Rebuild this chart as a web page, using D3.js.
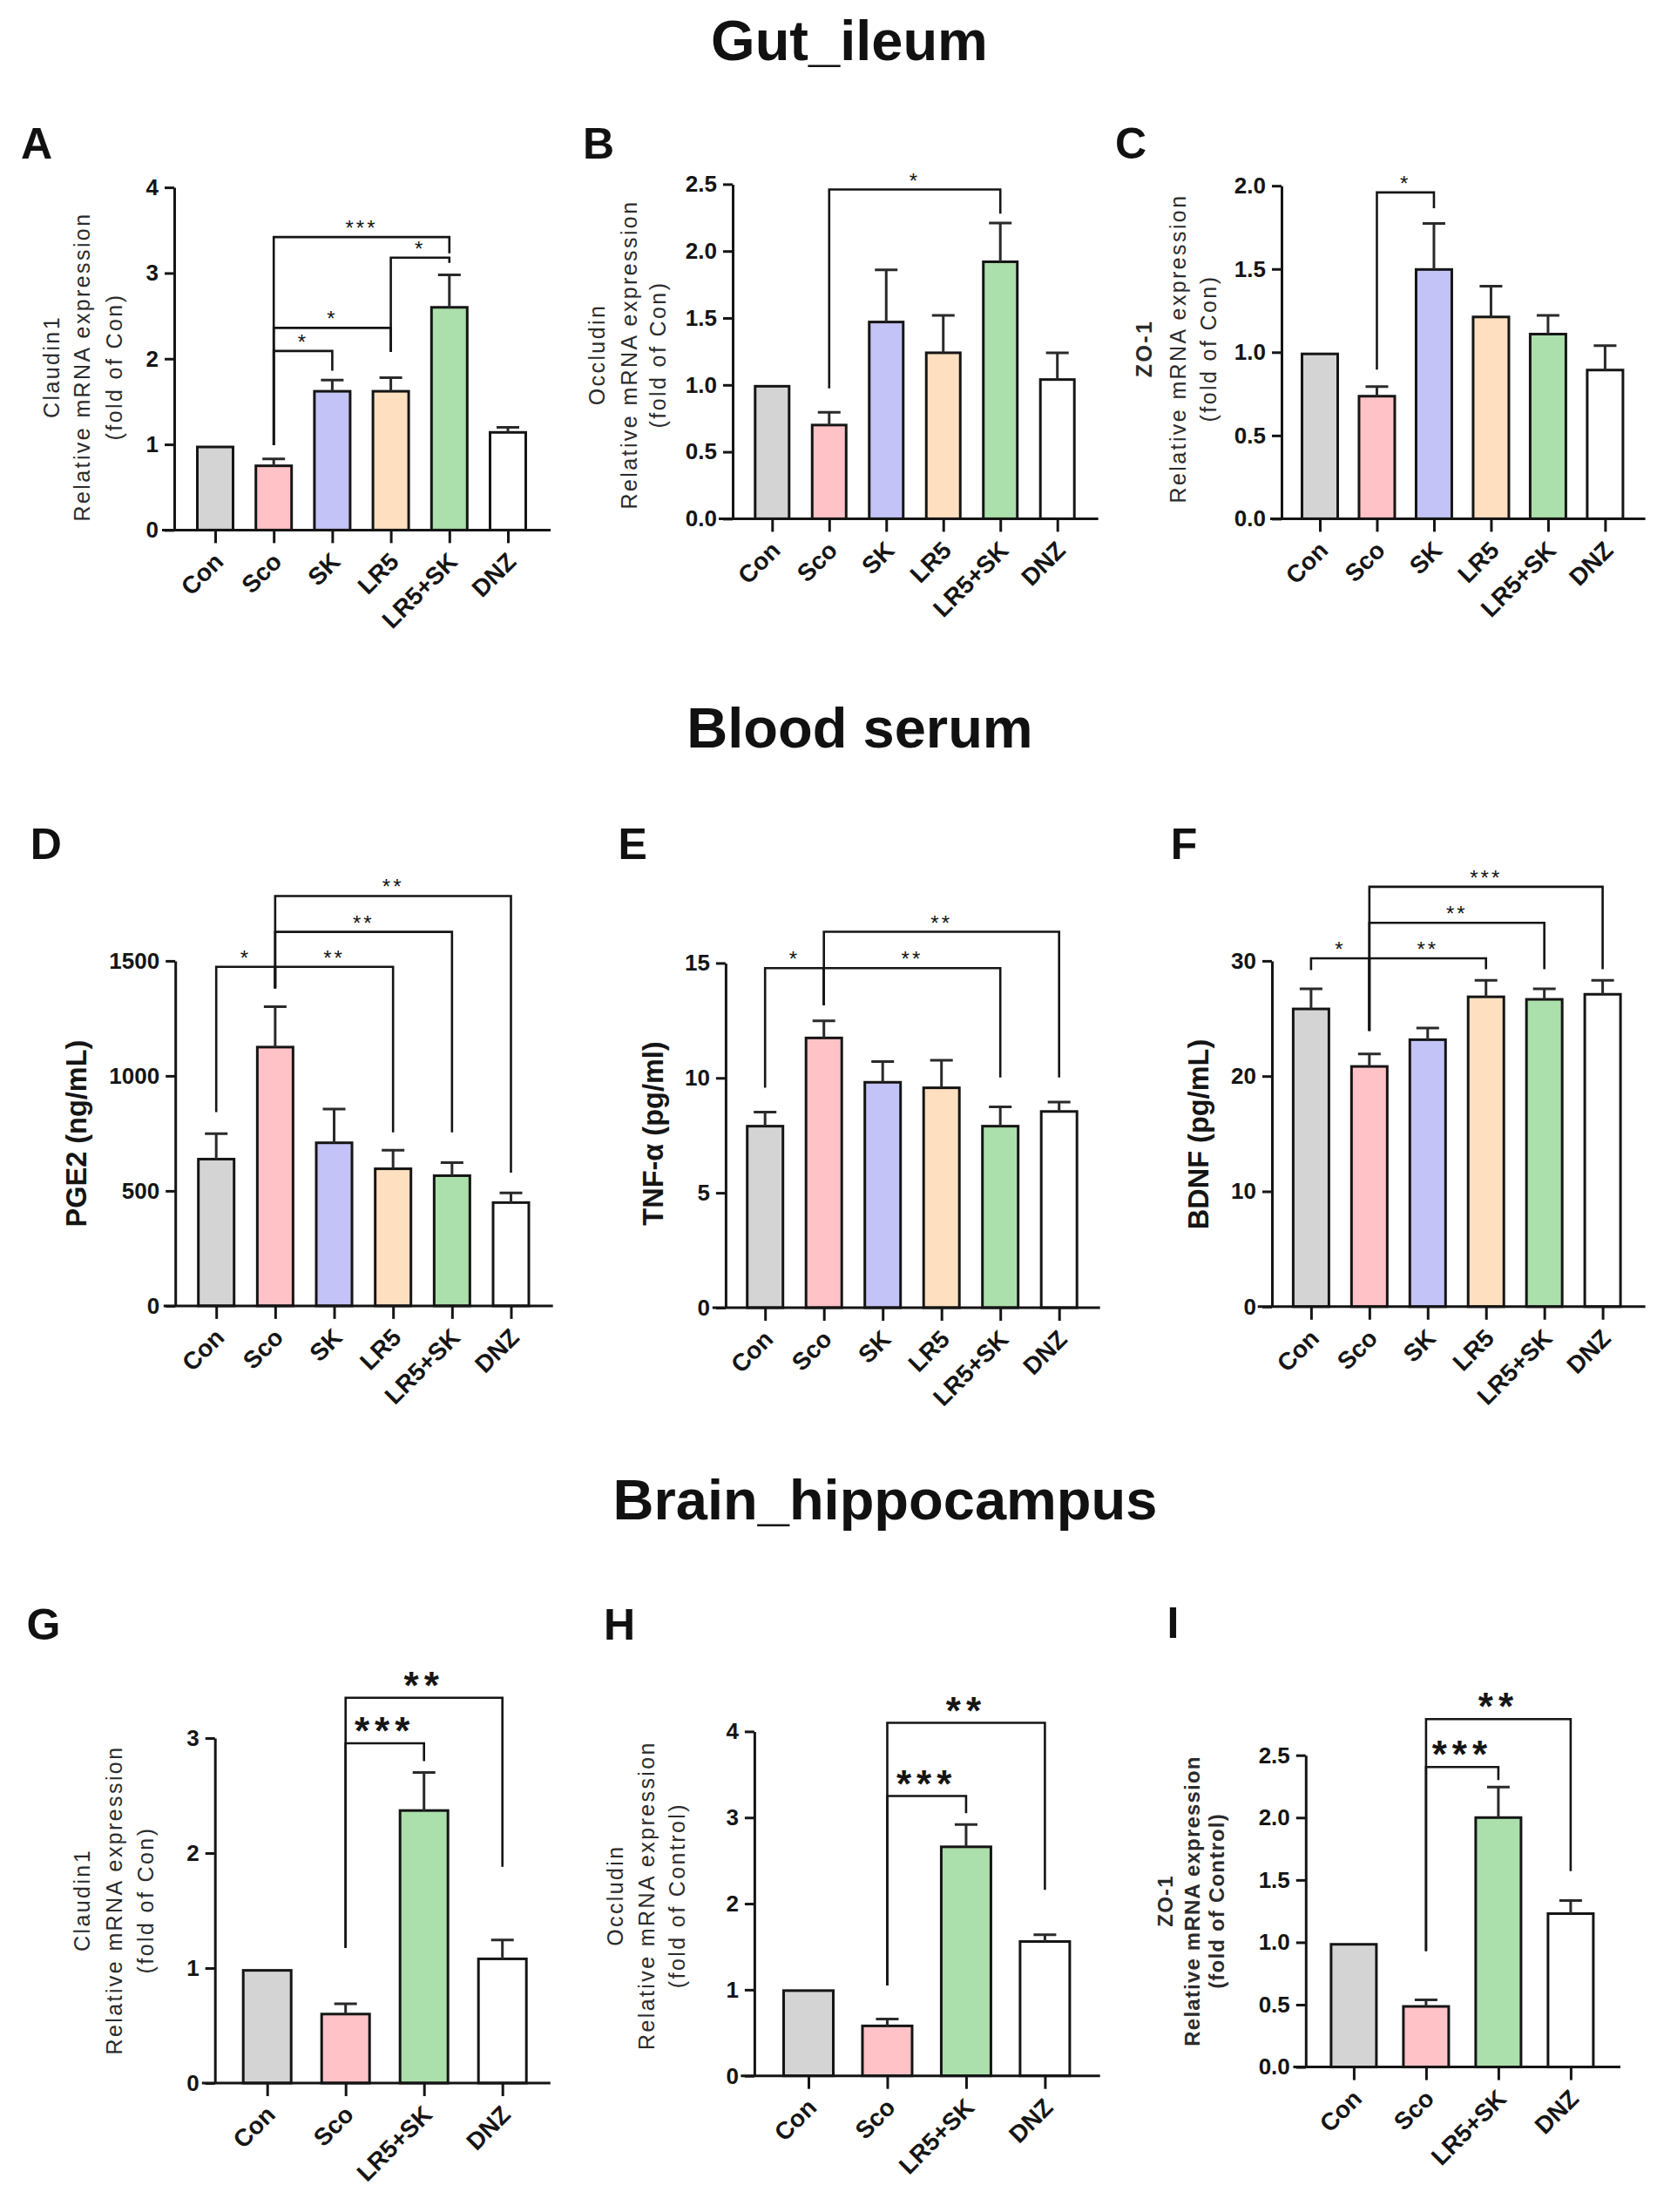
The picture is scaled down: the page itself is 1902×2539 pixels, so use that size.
<!DOCTYPE html>
<html>
<head>
<meta charset="utf-8">
<script src="https://cdn.jsdelivr.net/npm/d3@7"></script>
<style>
  body { margin: 0; background: #fff; }
</style>
</head>
<body>
<svg id="fig"></svg>
<script>
(function () {
    var FONT = "'Liberation Sans', Arial, Helvetica, sans-serif";

    // groups
    var groups6 = ["Con", "Sco", "SK", "LR5", "LR5+SK", "DNZ"];
    var groups4 = ["Con", "Sco", "LR5+SK", "DNZ"];
    var groupColors = ["#d4d4d4", "#ffc2c6", "#c3c3f7", "#fedfbf", "#abdfab", "#ffffff"];
    var sectionTitles = ["Gut_ileum", "Blood serum", "Brain_hippocampus"];

    // gut ileum
    var gutClaudinMean = [0.97, 0.75, 1.62, 1.62, 2.60, 1.14];
    var gutClaudinSem = [0, 0.08, 0.13, 0.16, 0.38, 0.06];
    var gutOccludinMean = [0.99, 0.70, 1.47, 1.24, 1.92, 1.04];
    var gutOccludinSem = [0, 0.095, 0.39, 0.28, 0.29, 0.20];
    var gutZo1Mean = [0.99, 0.736, 1.497, 1.212, 1.109, 0.893];
    var gutZo1Sem = [0, 0.058, 0.277, 0.184, 0.113, 0.147];

    // blood serum
    var pge2Mean = [638, 1125, 709, 596, 566, 449];
    var pge2Sem = [111, 176, 147, 81, 57, 42];
    var tnfMean = [7.90, 11.74, 9.81, 9.57, 7.90, 8.54];
    var tnfSem = [0.61, 0.74, 0.90, 1.20, 0.84, 0.41];
    var bdnfMean = [25.83, 20.84, 23.16, 26.88, 26.66, 27.10];
    var bdnfSem = [1.75, 1.08, 1.02, 1.43, 0.92, 1.21];

    // brain hippocampus
    var brainClaudinMean = [0.98, 0.60, 2.37, 1.08];
    var brainClaudinSem = [0, 0.09, 0.33, 0.165];
    var brainOccludinMean = [0.99, 0.58, 2.66, 1.56];
    var brainOccludinSem = [0, 0.08, 0.26, 0.08];
    var brainZo1Mean = [0.984, 0.486, 2.0, 1.23];
    var brainZo1Sem = [0, 0.052, 0.245, 0.105];

    // significance brackets: [from, to, top, left end, right end, label]
    var statsA = [[1, 4, 3.42, 0.99, 3.23, "***"], [3, 4, 3.18, 2.08, 3.12, "*"], [1, 3, 2.36, 0.99, 2.08, "*"], [1, 2, 2.09, 0.99, 1.86, "*"]];
    var statsB = [[1, 4, 2.46, 0.975, 2.28, "*"]];
    var statsC = [[1, 2, 1.96, 0.896, 1.865, "*"]];
    var statsD = [[0, 1, 1474, 842, 1380, "*"], [1, 3, 1474, 1380, 754, "**"], [1, 4, 1626, 1380, 754, "**"], [1, 5, 1782, 1380, 579, "**"]];
    var statsE = [[0, 1, 14.78, 9.57, 13.17, "*"], [1, 4, 14.78, 13.17, 10.02, "**"], [1, 5, 16.36, 13.17, 10.02, "**"]];
    var statsF = [[0, 1, 30.22, 29.2, 23.92, "*"], [1, 3, 30.22, 23.92, 29.27, "**"], [1, 4, 33.3, 23.92, 29.27, "**"], [1, 5, 36.43, 23.92, 29.27, "***"]];
    var statsG = [[1, 2, 2.955, 1.174, 2.80, "***"], [1, 3, 3.35, 1.174, 1.88, "**"]];
    var statsH = [[1, 2, 3.25, 1.05, 3.05, "***"], [1, 3, 4.10, 1.05, 2.16, "**"]];
    var statsI = [[1, 2, 2.405, 0.93, 2.30, "***"], [1, 3, 2.79, 0.93, 1.57, "**"]];

    // y ticks
    var ticksA = [0, 1, 2, 3, 4];
    var ticksHalf25 = [0, 0.5, 1.0, 1.5, 2.0, 2.5];
    var ticksHalf20 = [0, 0.5, 1.0, 1.5, 2.0];
    var ticksD = [0, 500, 1000, 1500];
    var ticksE = [0, 5, 10, 15];
    var ticksF = [0, 10, 20, 30];
    var ticksG = [0, 1, 2, 3];
    var ticksH = [0, 1, 2, 3, 4];

    var mrnaCon = ["Relative mRNA expression", "(fold of Con)"];
    var mrnaCtl = ["Relative mRNA expression", "(fold of Control)"];

    var width = 1902, height = 2539;
    var svg = d3.select("#fig").attr("width", width).attr("height", height)
        .attr("font-family", FONT);
    svg.append("rect").attr("width", width).attr("height", height).attr("fill", "#fff");

    var fmtInt = d3.format("d"), fmt1 = d3.format(".1f");

    var panels = [
        {id: "A", groups: groups6, mean: gutClaudinMean, sem: gutClaudinSem, stats: statsA, ticks: ticksA, fmt: fmtInt,
         yLabel: ["Claudin1"].concat(mrnaCon), big: false,
         L: {axisX: 200, y0: 608.4, yTop: 215.1, c0: 247, c1: 583, bw: 41, xStart: 186, xEnd: 632, lx: 24, ly: 182, labelX: [59, 94, 131], labelY: 421}},
        {id: "B", groups: groups6, mean: gutOccludinMean, sem: gutOccludinSem, stats: statsB, ticks: ticksHalf25, fmt: fmt1,
         yLabel: ["Occludin"].concat(mrnaCon), big: false,
         L: {axisX: 841, y0: 595.4, yTop: 211.4, c0: 886.3, c1: 1213.7, bw: 39, xStart: 825, xEnd: 1260.6, lx: 669, ly: 182, labelX: [685, 722, 754.5], labelY: 407}},
        {id: "C", groups: groups6, mean: gutZo1Mean, sem: gutZo1Sem, stats: statsC, ticks: ticksHalf20, fmt: fmt1,
         yLabel: ["ZO-1"].concat(mrnaCon), big: false, firstBold: true,
         L: {axisX: 1471, y0: 595.4, yTop: 213.2, c0: 1515, c1: 1842.4, bw: 41, xStart: 1458, xEnd: 1888.6, lx: 1280, ly: 182, labelX: [1313, 1352, 1386.5], labelY: 400}},
        {id: "D", groups: groups6, mean: pge2Mean, sem: pge2Sem, stats: statsD, ticks: ticksD, fmt: fmtInt,
         yLabel: ["PGE2 (ng/mL)"], big: false, single: true,
         L: {axisX: 201.2, y0: 1498.9, yTop: 1102.9, c0: 248.2, c1: 586.5, bw: 41, xStart: 187.8, xEnd: 634.7, lx: 34.7, ly: 986, labelX: [87.8], labelY: 1301}},
        {id: "E", groups: groups6, mean: tnfMean, sem: tnfSem, stats: statsE, ticks: ticksE, fmt: fmtInt,
         yLabel: ["TNF-\u03b1 (pg/ml)"], big: false, single: true,
         L: {axisX: 832.9, y0: 1501, yTop: 1105.4, c0: 878.2, c1: 1215.7, bw: 41, xStart: 817.8, xEnd: 1262.7, lx: 709.6, ly: 986, labelX: [750], labelY: 1301}},
        {id: "F", groups: groups6, mean: bdnfMean, sem: bdnfSem, stats: statsF, ticks: ticksF, fmt: fmtInt,
         yLabel: ["BDNF (pg/mL)"], big: false, single: true,
         L: {axisX: 1460, y0: 1499.8, yTop: 1102.9, c0: 1504.9, c1: 1839.6, bw: 41, xStart: 1443.7, xEnd: 1888.6, lx: 1343.7, ly: 986, labelX: [1376], labelY: 1302}},
        {id: "G", groups: groups4, mean: brainClaudinMean, sem: brainClaudinSem, stats: statsG, ticks: ticksG, fmt: fmtInt,
         yLabel: ["Claudin1"].concat(mrnaCon), big: true,
         L: {axisX: 246.7, y0: 2391, yTop: 1995, c0: 306.7, c1: 576.7, bw: 55, xStart: 231.8, xEnd: 631.8, lx: 30.6, ly: 1882, labelX: [94, 130.6, 167], labelY: 2181}},
        {id: "H", groups: groups4, mean: brainOccludinMean, sem: brainOccludinSem, stats: statsH, ticks: ticksH, fmt: fmtInt,
         yLabel: ["Occludin"].concat(mrnaCtl), big: true,
         L: {axisX: 865.9, y0: 2382.7, yTop: 1987.4, c0: 928, c1: 1199.4, bw: 57, xStart: 850.4, xEnd: 1262.7, lx: 693, ly: 1882, labelX: [705.5, 742, 777], labelY: 2175.6}},
        {id: "I", groups: groups4, mean: brainZo1Mean, sem: brainZo1Sem, stats: statsI, ticks: ticksHalf25, fmt: fmt1,
         yLabel: ["ZO-1"].concat(mrnaCtl), big: true, firstBold: true, dense: true,
         L: {axisX: 1498.8, y0: 2372.6, yTop: 2014.7, c0: 1553.9, c1: 1802.9, bw: 52, xStart: 1484.5, xEnd: 1860, lx: 1339.6, ly: 1880, labelX: [1337.6, 1368, 1396.7], labelY: 2182}}
    ];

    // section titles
    var titlePos = [[975, 69], [987, 858], [1016, 1744]];
    svg.selectAll("text.section").data(sectionTitles).join("text")
        .attr("class", "section")
        .attr("x", function (d, i) { return titlePos[i][0]; })
        .attr("y", function (d, i) { return titlePos[i][1]; })
        .attr("text-anchor", "middle")
        .attr("font-size", 65).attr("font-weight", "bold").attr("fill", "#111")
        .text(function (d) { return d; });

    panels.forEach(drawPanel);

    function drawPanel(p) {
        var L = p.L;
        var g = svg.append("g").attr("class", "panel-" + p.id);
        var y = d3.scaleLinear().domain([0, p.ticks[p.ticks.length - 1]]).range([L.y0, L.yTop]);
        var x = d3.scalePoint().domain(p.groups).range([L.c0, L.c1]);
        var rows = p.groups.map(function (name, i) {
            return {name: name, mean: p.mean[i], sem: p.sem[i], color: groupColors[groups6.indexOf(name)]};
        });

        // panel letter
        g.append("text").attr("x", L.lx).attr("y", L.ly)
            .attr("font-size", 50).attr("font-weight", "bold").attr("fill", "#111")
            .text(p.id);

        // bars
        g.selectAll("rect.bar").data(rows).join("rect")
            .attr("class", "bar")
            .attr("x", function (d) { return x(d.name) - L.bw / 2; })
            .attr("y", function (d) { return y(d.mean); })
            .attr("width", L.bw)
            .attr("height", function (d) { return L.y0 - y(d.mean); })
            .attr("fill", function (d) { return d.color; })
            .attr("stroke", "#151515").attr("stroke-width", 3);

        // error bars (upper only)
        g.selectAll("path.err").data(rows.filter(function (d) { return d.sem > 0; })).join("path")
            .attr("class", "err")
            .attr("d", function (d) {
                var cx = x(d.name), yt = y(d.mean + d.sem);
                return "M" + cx + "," + y(d.mean) + "V" + yt + "M" + (cx - 13) + "," + yt + "H" + (cx + 13);
            })
            .attr("fill", "none").attr("stroke", "#2a2a2a").attr("stroke-width", 3);

        // y axis
        var ya = g.append("g").attr("transform", "translate(" + L.axisX + ",0)")
            .call(d3.axisLeft(y).tickValues(p.ticks).tickFormat(p.fmt).tickSize(11).tickSizeOuter(0).tickPadding(7));
        ya.select(".domain").attr("stroke", "#151515").attr("stroke-width", 3);
        ya.selectAll(".tick line").attr("stroke", "#151515").attr("stroke-width", 3);
        ya.selectAll(".tick text").attr("font-family", FONT).attr("font-size", 26)
            .attr("font-weight", "bold").attr("fill", "#151515");

        // x axis
        g.append("line").attr("x1", L.xStart).attr("x2", L.xEnd).attr("y1", L.y0).attr("y2", L.y0)
            .attr("stroke", "#151515").attr("stroke-width", 3);
        var xa = g.append("g").attr("transform", "translate(0," + L.y0 + ")")
            .call(d3.axisBottom(x).tickSize(15).tickSizeOuter(0).tickFormat(""));
        xa.select(".domain").remove();
        xa.selectAll(".tick line").attr("stroke", "#151515").attr("stroke-width", 3);

        g.selectAll("text.xl").data(p.groups).join("text")
            .attr("class", "xl")
            .attr("transform", function (d) {
                return "translate(" + (x(d) + 11) + "," + (L.y0 + 38) + ") rotate(-45)";
            })
            .attr("text-anchor", "end")
            .attr("font-size", 28).attr("font-weight", "bold").attr("fill", "#151515")
            .text(function (d) { return d; });

        // y label
        if (p.single) {
            g.append("text")
                .attr("transform", "translate(" + (L.labelX[0] + 11) + "," + L.labelY + ") rotate(-90)")
                .attr("text-anchor", "middle")
                .attr("font-size", 32.5).attr("font-weight", "bold").attr("fill", "#151515")
                .text(p.yLabel[0]);
        } else {
            var fs = p.dense ? 24 : 25;
            g.selectAll("text.yl").data(p.yLabel).join("text")
                .attr("class", "yl")
                .attr("transform", function (d, i) {
                    return "translate(" + (L.labelX[i] + fs * 0.36) + "," + L.labelY + ") rotate(-90)";
                })
                .attr("text-anchor", "middle")
                .attr("font-size", fs)
                .attr("letter-spacing", p.dense ? 1.2 : 2.4)
                .attr("font-weight", function (d, i) { return (i === 0 && p.firstBold) || p.dense ? "bold" : "normal"; })
                .attr("fill", "#2b2b2b")
                .text(function (d) { return d; });
        }

        // significance brackets
        var starSize = p.big ? 44 : 24;
        g.selectAll("path.sig").data(p.stats).join("path")
            .attr("class", "sig")
            .attr("d", function (b) {
                var x1 = x(p.groups[b[0]]), x2 = x(p.groups[b[1]]);
                return "M" + x1 + "," + y(b[3]) + "V" + y(b[2]) + "H" + x2 + "V" + y(b[4]);
            })
            .attr("fill", "none").attr("stroke", "#151515").attr("stroke-width", 2.6);
        g.selectAll("text.sig").data(p.stats).join("text")
            .attr("class", "sig")
            .attr("x", function (b) { return (x(p.groups[b[0]]) + x(p.groups[b[1]])) / 2; })
            .attr("y", function (b) { return y(b[2]) + (p.big ? 1 : -2); })
            .attr("text-anchor", "middle")
            .attr("font-size", starSize).attr("font-weight", p.big ? "bold" : "normal")
            .attr("letter-spacing", p.big ? 6 : 3)
            .attr("fill", "#151515")
            .text(function (b) { return b[5]; });
    }
})();
</script>
</body>
</html>
